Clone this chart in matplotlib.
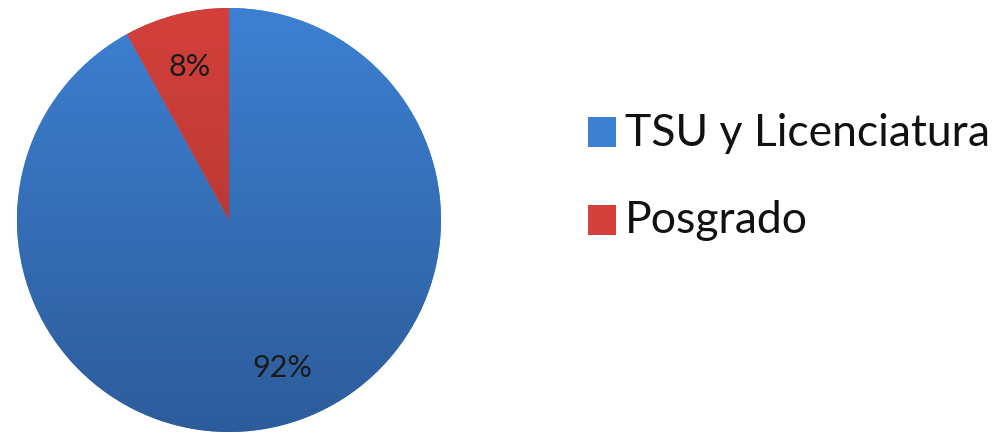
import numpy as np
import matplotlib.pyplot as plt
from matplotlib.colors import LinearSegmentedColormap
from matplotlib.patches import Rectangle

# datos
categorias = ['TSU y Licenciatura', 'Posgrado']
porcentajes = [92, 8]
colores_arriba = ['#3d80d2', '#d4403b']
colores_abajo = ['#2d5c9a', '#a3322f']

plt.rcParams['font.family'] = ['Lato', 'DejaVu Sans']

fig = plt.figure(figsize=(9.98, 4.35), dpi=100)
ax = fig.add_axes([17 / 998, 2 / 435, 424 / 998, 424 / 435])

wedges, textos, autotextos = ax.pie(
    porcentajes, startangle=90, counterclock=False, radius=1.0,
    colors=colores_arriba, autopct='%1.0f%%', pctdistance=0.75,
    wedgeprops=dict(linewidth=0),
    textprops=dict(fontsize=22, color='#1a1a1a'))

# degradado vertical dentro de cada sector
grad = np.linspace(1, 0, 256).reshape(-1, 1)
for w, c1, c2 in zip(wedges, colores_arriba, colores_abajo):
    cmap = LinearSegmentedColormap.from_list('g', [c2, c1])
    im = ax.imshow(grad, cmap=cmap, extent=(-1, 1, -1, 1), aspect='auto',
                   zorder=w.get_zorder() + 0.1, origin='upper',
                   vmin=0, vmax=1)
    im.set_clip_path(w)
for t in autotextos:
    t.set_zorder(5)

# etiqueta del 92% un poco girada hacia la derecha, como en el original
ang = np.deg2rad(-70)
autotextos[0].set_position((0.74 * np.cos(ang), 0.74 * np.sin(ang)))

ax.set_xlim(-1.0, 1.0)
ax.set_ylim(-1.0, 1.0)
ax.set_aspect('equal')

# leyenda
posiciones_y = [133, 221]
for cat, c1, c2, y in zip(categorias, colores_arriba, colores_abajo, posiciones_y):
    fig.patches.append(Rectangle((588 / 998, 1 - (y + 15) / 435), 28 / 998, 30 / 435,
                                 transform=fig.transFigure, facecolor=c1,
                                 edgecolor='none'))
    fig.text(625 / 998, 1 - y / 435, cat, fontsize=32, color='#111111',
             va='center', ha='left')

fig.savefig('out.png', dpi=100)
